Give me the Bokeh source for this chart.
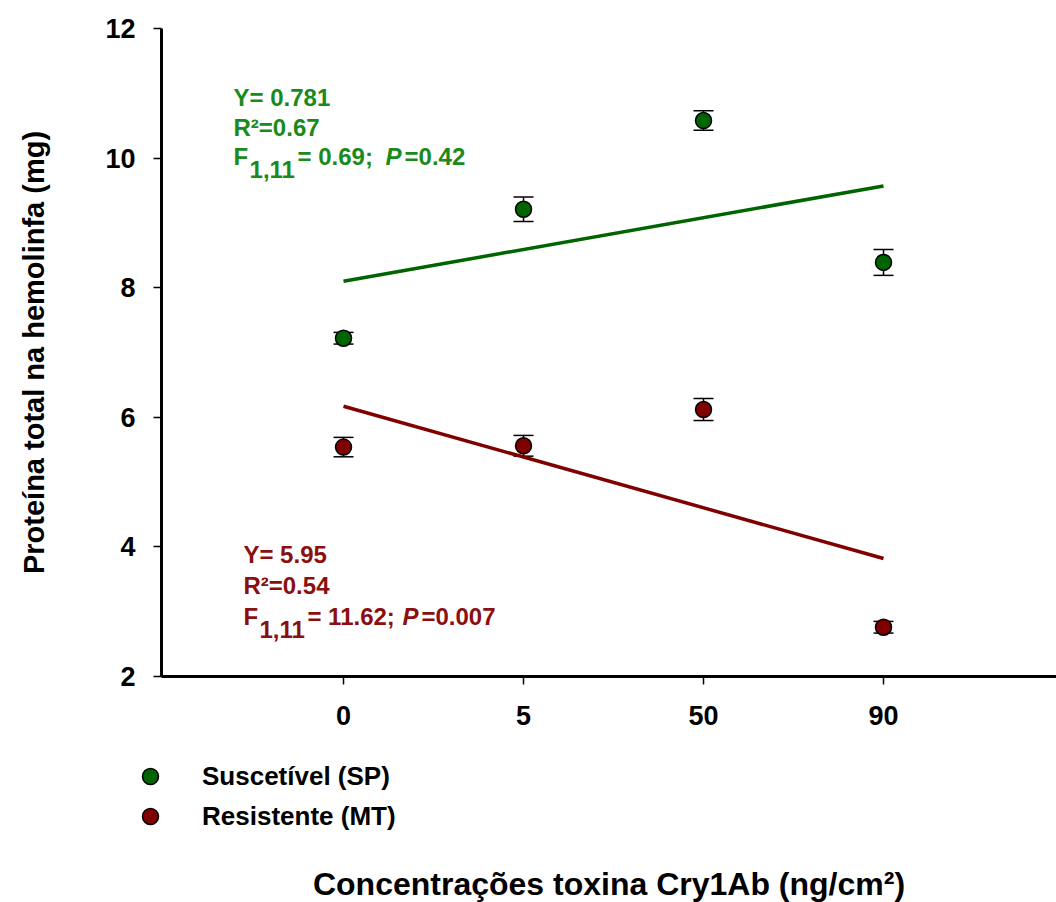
from bokeh.plotting import figure
from bokeh.models import (Range1d, FixedTicker, Whisker, TeeHead, ColumnDataSource,
                          Legend, LegendItem, Label)
from bokeh.embed import file_html
from bokeh.resources import INLINE

# ---- data ----
conc_labels = ["0", "5", "50", "90"]
conc_index = [0, 1, 2, 3]
susc_mean = [7.22, 9.21, 10.58, 8.39]
susc_se = [0.09, 0.19, 0.15, 0.20]
res_mean = [5.54, 5.56, 6.12, 2.76]
res_se = [0.15, 0.16, 0.17, 0.09]
fit_x = [0, 3]
susc_fit = [8.10, 9.57]
res_fit = [6.17, 3.82]
y_ticks = [2, 4, 6, 8, 10, 12]

GREEN = "#006400"
GREEN_TXT = "#1a8a1a"
RED = "#800000"
RED_TXT = "#8b0f0f"
FONT = "Liberation Sans"

# frame covers the whole canvas; axes are drawn at fixed locations inside it
X0, X1 = -1.011, 4.13      # extent of the x axis line (runs past the right edge)
Y0, Y1 = 2, 12             # extent of the y axis line
p = figure(width=1056, height=902, output_backend="svg", toolbar_location=None,
           x_range=Range1d(-1.9056, 3.961), y_range=Range1d(-1.488, 12.432),
           min_border_left=0, min_border_right=0, min_border_top=0,
           min_border_bottom=0)
p.outline_line_color = None
p.xgrid.visible = False
p.ygrid.visible = False
p.background_fill_color = "white"
p.border_fill_color = "white"

for ax in (p.xaxis[0], p.yaxis[0]):
    ax.axis_line_width = 3
    ax.axis_line_color = "black"
    ax.major_tick_line_width = 1.5
    ax.major_tick_out = 8
    ax.major_tick_in = 0
    ax.minor_tick_line_color = None
    ax.major_label_text_font = FONT
    ax.major_label_text_font_style = "bold"
    ax.major_label_text_font_size = "27px"
    ax.major_label_text_color = "black"
    ax.axis_label_text_font = FONT
    ax.axis_label_text_font_style = "bold"
    ax.axis_label_text_color = "black"

xa = p.xaxis[0]
xa.fixed_location = Y0
xa.bounds = (X0, X1)
xa.ticker = FixedTicker(ticks=conc_index)
xa.major_label_overrides = {i: s for i, s in zip(conc_index, conc_labels)}
xa.major_label_standoff = 22
xa.axis_label = "Concentrações toxina Cry1Ab (ng/cm²)"
xa.axis_label_text_font_size = "32px"
xa.axis_label_standoff = 137

ya = p.yaxis[0]
ya.fixed_location = X0
ya.bounds = (Y0, Y1)
ya.ticker = FixedTicker(ticks=y_ticks)
ya.major_label_standoff = 18
ya.axis_label = "Proteína total na hemolinfa (mg)"
ya.axis_label_text_font_size = "29px"
ya.axis_label_standoff = 52

# regression lines
p.line(fit_x, susc_fit, line_color=GREEN, line_width=3.5)
p.line(fit_x, res_fit, line_color=RED, line_width=3.5)

# error bars
for mean, se in ((susc_mean, susc_se), (res_mean, res_se)):
    src = ColumnDataSource(dict(x=conc_index,
                                upper=[m + s for m, s in zip(mean, se)],
                                lower=[m - s for m, s in zip(mean, se)]))
    w = Whisker(source=src, base="x", upper="upper", lower="lower",
                dimension="height", line_color="black", line_width=1.5,
                upper_head=TeeHead(size=20, line_width=1.5, line_color="black"),
                lower_head=TeeHead(size=20, line_width=1.5, line_color="black"))
    p.add_layout(w)

g = p.scatter(conc_index, susc_mean, size=16, fill_color=GREEN, line_color="black", line_width=1.5)
r = p.scatter(conc_index, res_mean, size=16, fill_color=RED, line_color="black", line_width=1.5)

legend = Legend(items=[LegendItem(label="Suscetível (SP)", renderers=[g]),
                       LegendItem(label="Resistente (MT)", renderers=[r])],
                location=(130, 66), padding=0, margin=0, spacing=0,
                glyph_width=40, glyph_height=40, label_height=40,
                label_standoff=32, border_line_color=None,
                background_fill_alpha=0,
                label_text_font=FONT, label_text_font_style="bold",
                label_text_font_size="26px", label_text_color="black")
p.add_layout(legend, "center")

# annotations
def stat_block(x, ys, color, texts):
    y1, y2, y3 = ys
    line1, line2, eq, pval, p_off = texts
    common = dict(text_font=FONT, text_font_style="bold", text_font_size="24px",
                  text_color=color, text_baseline="alphabetic", text_align="left")
    p.add_layout(Label(x=x, y=y1, text=line1, **common))
    p.add_layout(Label(x=x, y=y2, text=line2, **common))
    p.add_layout(Label(x=x, y=y3, text="F", **common))
    p.add_layout(Label(x=x, y=y3, x_offset=16, y_offset=-13, text="1,11", **common))
    p.add_layout(Label(x=x, y=y3, x_offset=64, text=eq, **common))
    it = dict(common)
    it["text_font_style"] = "bold italic"
    p.add_layout(Label(x=x, y=y3, x_offset=p_off, text="P", **it))
    p.add_layout(Label(x=x, y=y3, x_offset=p_off + 19, text=pval, **common))

stat_block(-0.611, (10.93, 10.47, 10.02), GREEN_TXT,
           ("Y= 0.781", "R²=0.67", "= 0.69;", "=0.42", 152))
stat_block(-0.556, (3.88, 3.40, 2.93), RED_TXT,
           ("Y= 5.95", "R²=0.54", "= 11.62;", "=0.007", 159))

open("out.html", "w").write(file_html(p, INLINE))
